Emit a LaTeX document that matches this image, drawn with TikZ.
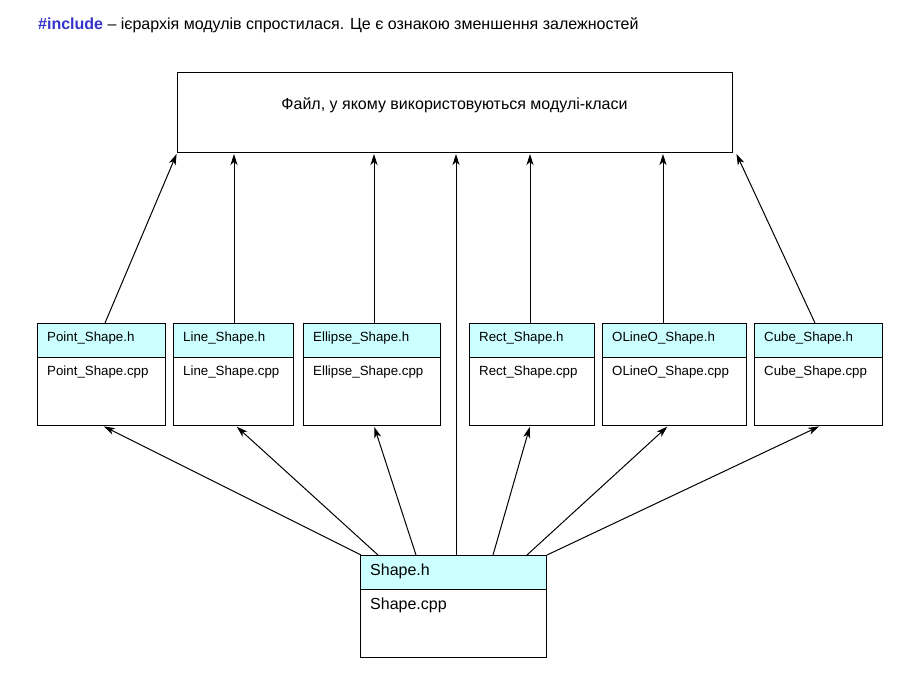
\documentclass[tikz,border=0pt]{standalone}
\usepackage{fontspec}
\setmainfont{Liberation Sans}
\usetikzlibrary{arrows.meta}
\definecolor{hdrfill}{HTML}{CCFFFF}
\definecolor{incblue}{HTML}{3333CC}
\tikzset{
  box/.style={draw=black, line width=1pt, rectangle, anchor=north west, inner sep=0pt},
  hdr/.style={box, fill=hdrfill, minimum height=34pt},
  bdy/.style={box, fill=white, minimum height=68pt},
  lbl/.style={anchor=west, inner sep=0pt, font=\fontsize{13.3}{16}\selectfont},
  biglbl/.style={anchor=west, inner sep=0pt, font=\fontsize{16}{19}\selectfont},
  conn/.style={draw=black, line width=1pt, shorten >=1pt, -{Stealth[length=11pt,width=7pt,inset=3pt]}}
}
\begin{document}
\begin{tikzpicture}[x=1pt,y=-1pt]
\useasboundingbox (0,0) rectangle (924,699);
% title
\node[anchor=west, inner sep=0pt, font=\fontsize{16}{19}\selectfont] (title) at (38,25) {\textcolor{incblue}{\textbf{\#include}} – ієрархія модулів спростилася. Це є ознакою зменшення залежностей};
% top box
\node[box, minimum width=555pt, minimum height=80pt] (top) at (177,72) {};
\node[font=\fontsize{16}{19}\selectfont, inner sep=0pt] (toplbl) at (454.5,105) {Файл, у якому використовуються модулі-класи};
% class boxes
\foreach \n/\x/\w/\name in {p/37/128/Point, l/173/120/Line, e/303/137/Ellipse, r/469/125/Rect, o/602/144/OLineO, c/754/128/Cube}{
  \node[bdy, minimum width=\w pt] (\n B) at (\x,357) {};
  \node[hdr, minimum width=\w pt] (\n H) at (\x,323) {};
  \node[lbl] (\n Ht) at (\x+10,338) {\name\_Shape.h};
  \node[lbl] (\n Bt) at (\x+10,372) {\name\_Shape.cpp};
}
% Shape box
\node[bdy, minimum width=186pt, minimum height=68pt] (sB) at (360,589) {};
\node[hdr, minimum width=186pt] (sH) at (360,555) {};
\node[biglbl] (sHt) at (370,571) {Shape.h};
\node[biglbl] (sBt) at (370,605) {Shape.cpp};
% upward arrows to top box
\draw[conn] ([xshift=68pt]pH.north west) -- (top.south west);
\draw[conn] ([xshift=61pt]lH.north west) -- ([xshift=57pt]top.south west);
\draw[conn] ([xshift=71pt]eH.north west) -- ([xshift=197pt]top.south west);
\draw[conn] ([xshift=96pt]sH.north west) -- ([xshift=279pt]top.south west);
\draw[conn] ([xshift=61pt]rH.north west) -- ([xshift=353pt]top.south west);
\draw[conn] ([xshift=61pt]oH.north west) -- ([xshift=486pt]top.south west);
\draw[conn] ([xshift=61pt]cH.north west) -- ([xshift=3pt]top.south east);
% arrows from Shape to class boxes
\draw[conn] ([xshift=1pt]sH.north west) -- ([xshift=66pt]pB.south west);
\draw[conn] ([xshift=18pt]sH.north west) -- ([xshift=63pt]lB.south west);
\draw[conn] ([xshift=56pt]sH.north west) -- ([xshift=71pt]eB.south west);
\draw[conn] ([xshift=133pt]sH.north west) -- ([xshift=61pt]rB.south west);
\draw[conn] ([xshift=167pt]sH.north west) -- ([xshift=66pt]oB.south west);
\draw[conn] (sH.north east) -- ([xshift=66pt]cB.south west);
\end{tikzpicture}
\end{document}
